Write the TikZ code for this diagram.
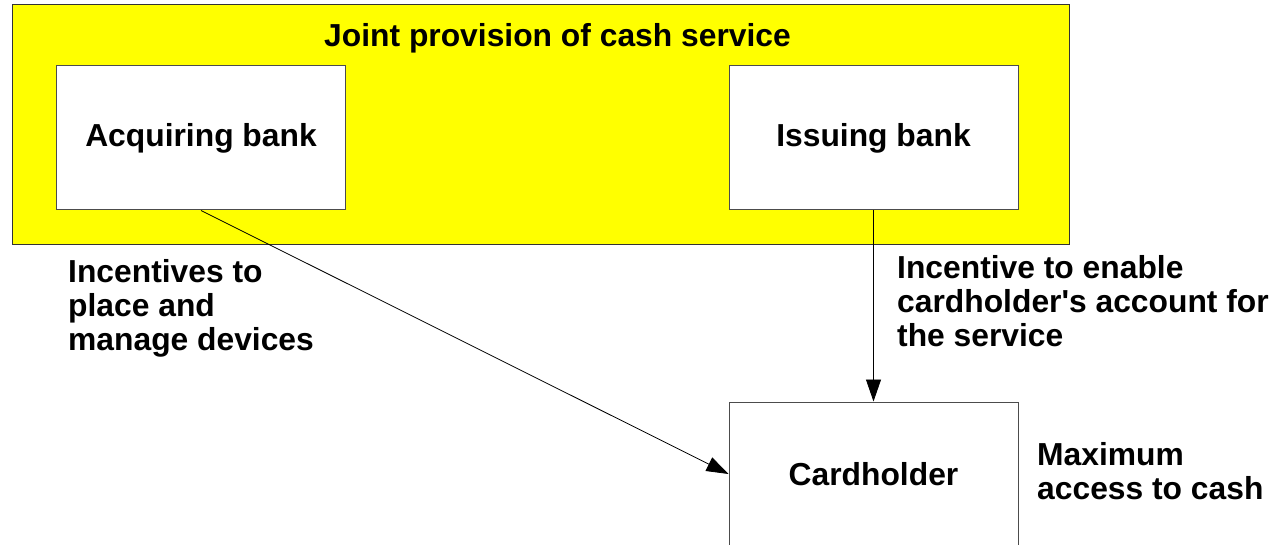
\documentclass[tikz,border=0pt]{standalone}
\usepackage{fontspec}
\setmainfont{Liberation Sans}
\usetikzlibrary{arrows.meta}
\definecolor{panelyellow}{RGB}{255,255,0}
% straight apostrophe, set as a glyph so no quote mapping applies
\newcommand{\straightquote}{\XeTeXglyph\the\XeTeXcharglyph"0027\relax}
\begin{document}
\begin{tikzpicture}[x=1pt,y=-1pt,
  lbl/.style={font=\bfseries\fontsize{31.8}{34}\selectfont, inner sep=0pt},
  panel/.style={draw=black!80, line width=1pt, fill=panelyellow, minimum width=1057pt, minimum height=240pt, inner sep=0pt},
  party/.style={draw=black!70, line width=1pt, fill=white, minimum width=289pt, minimum height=144pt, inner sep=0pt, font=\bfseries\fontsize{31.8}{34}\selectfont},
  flow/.style={draw=black, line width=0.8pt, -{Triangle[length=22pt,width=15pt]}}]
\useasboundingbox (0,0) rectangle (1274,545);
\begin{scope}
\clip (0,0) rectangle (1274,545);
% shared cash service panel
\node[panel] (frame) at (540.5,125) {};
\node[lbl, anchor=base] (title) at (557.5,47) {Joint provision of cash service};
% participants
\node[party] (acq) at (201,138) {Acquiring bank};
\node[party] (iss) at (873.5,138) {Issuing bank};
\node[party] (card) at (873.5,474) {Cardholder};
% incentive flows
\draw[flow] (acq.south) -- (card.west);
\draw[flow] (iss.south) -- (card.north);
% labels (anchored at the baseline of their last line)
\node[lbl, anchor=base west, align=left] (acqlbl) at (68,350) {Incentives to\\place and\\manage devices};
\node[lbl, anchor=base west, align=left] (isslbl) at (897,346) {Incentive to enable\\cardholder\straightquote s account for\\the service};
\node[lbl, anchor=base west, align=left] (cardlbl) at (1037,499) {Maximum\\access to cash};
\end{scope}
\end{tikzpicture}
\end{document}
